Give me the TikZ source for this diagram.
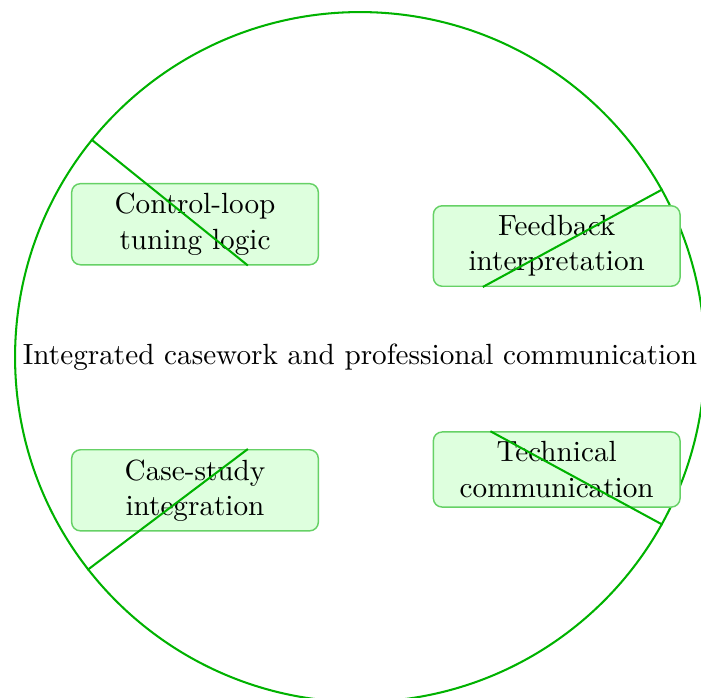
\documentclass[tikz,border=0pt]{standalone}
\usetikzlibrary{shapes.geometric}
\definecolor{lineg}{rgb}{0,0.7,0}
\tikzset{
  topic/.style={draw=lineg!60, line width=0.5pt, fill=green!13, rounded corners=3pt,
    text width=77.8pt, align=center, inner sep=3.33pt},
  hub/.style={circle, draw=lineg, line width=0.7pt, inner sep=0pt, minimum size=236.2pt},
  link/.style={draw=lineg, line width=0.7pt}
}
\begin{document}
\begin{tikzpicture}[x=0.34237pt, y=-0.34237pt]
\useasboundingbox (0,0) rectangle (701,697);
\node[hub] (main) at (360,357) {Integrated casework and professional communication};
\node[topic] (b1) at (195,224.2) {Control-loop tuning logic};
\node[topic] (b2) at (556.7,246) {Feedback interpretation};
\node[topic] (b3) at (195,490.3) {Case-study integration};
\node[topic] (b4) at (556.7,469.5) {Technical communication};
\draw[link] (main.141.17) -- (b1.-38.83);
\draw[link] (main.29.44) -- (b2.209.44);
\draw[link] (main.218.93) -- (b3.38.93);
\draw[link] (main.-29.76) -- (b4.150.24);
\end{tikzpicture}
\end{document}
